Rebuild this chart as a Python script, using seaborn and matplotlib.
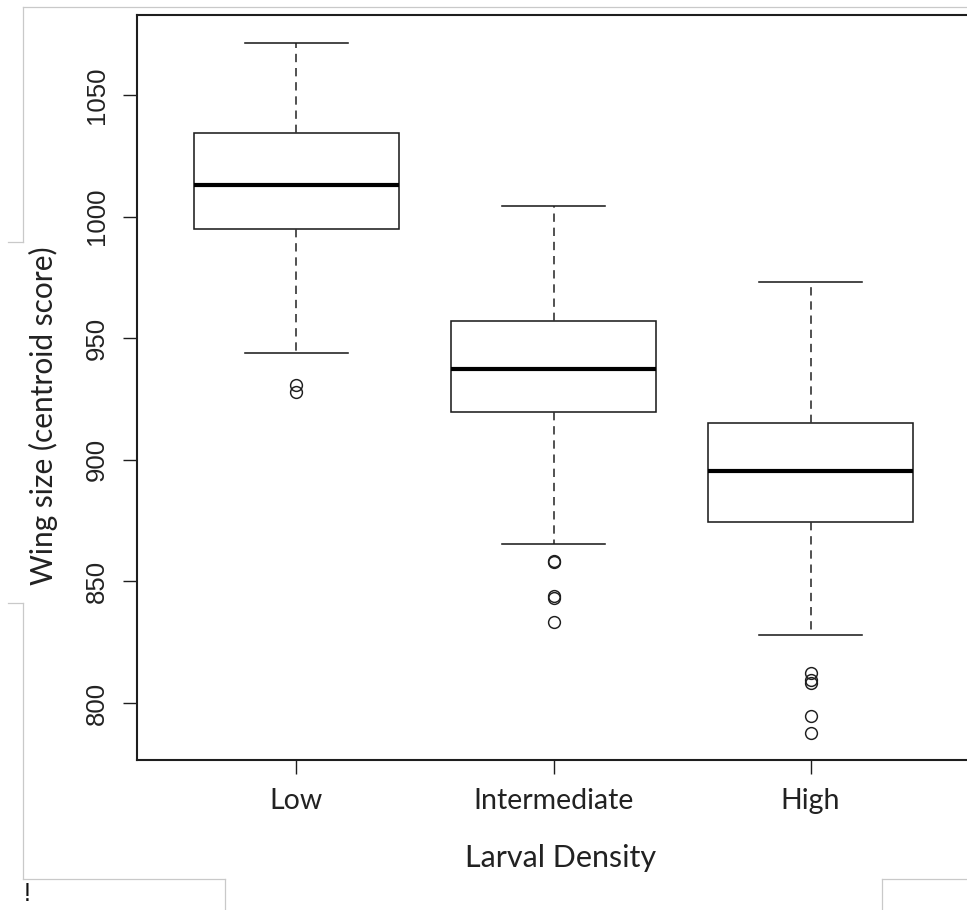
import numpy as np
import pandas as pd
import matplotlib
matplotlib.use("Agg")
import matplotlib.pyplot as plt
from matplotlib.lines import Line2D
import seaborn as sns

# ---------------- data ----------------
categories = ["Low", "Intermediate", "High"]
# five-number summaries: lower whisker, Q1, median, Q3, upper whisker
low_stats = [943.8, 995.1, 1013.0, 1034.4, 1071.4]
intermediate_stats = [865.6, 919.7, 937.3, 957.0, 1004.5]
high_stats = [827.8, 874.5, 895.5, 915.2, 973.0]
low_outliers = [930.6, 928.1]
intermediate_outliers = [858.5, 858.0, 844.2, 843.0, 833.5]
high_outliers = [812.2, 809.5, 808.1, 794.7, 787.8]
y_ticks = [800, 850, 900, 950, 1000, 1050]
x_label = "Larval Density"
y_label = "Wing size (centroid score)"


def build_sample(stats, outliers):
    """Sample whose quartiles / whiskers / fliers reproduce the summary."""
    lw, q1, med, q3, uw = stats
    below = sorted(outliers) + [lw]
    n = len(below)
    return below + [q1] * n + [med] * n + [q3] * n + [uw]


groups = {
    "Low": build_sample(low_stats, low_outliers),
    "Intermediate": build_sample(intermediate_stats, intermediate_outliers),
    "High": build_sample(high_stats, high_outliers),
}
df = pd.DataFrame(
    [(k, v) for k, vals in groups.items() for v in vals],
    columns=["density", "wing"],
)

# ---------------- figure ----------------
W, H = 967, 910
fig = plt.figure(figsize=(W / 100, H / 100), dpi=100)
fig.patch.set_facecolor("white")


def fx(px):
    return px / W


def fy(py):
    return 1 - py / H


ax = fig.add_axes([fx(137), fy(760), (970 - 137) / W, (760 - 15) / H])
ink = "#1e1e1e"

sns.boxplot(
    data=df, x="density", y="wing", order=categories, ax=ax,
    width=0.8, color="white", linecolor=ink, linewidth=1.15, whis=1.5,
    medianprops={"linewidth": 3.0, "color": "black", "solid_capstyle": "butt"},
    whiskerprops={"linestyle": (0, (5, 3.5)), "linewidth": 1.2, "color": "#333333"},
    capprops={"linewidth": 1.15, "color": ink},
    flierprops={"marker": "o", "markersize": 8.5, "markerfacecolor": "none",
                "markeredgecolor": ink, "markeredgewidth": 1.05},
)

ax.set_xlim(-0.62, 2.62)
ax.set_ylim(776.6, 1082.9)
ax.set_yticks(y_ticks)
ax.set_yticklabels([str(t) for t in y_ticks])

for side in ["top", "left", "bottom", "right"]:
    ax.spines[side].set_linewidth(1.5)
    ax.spines[side].set_color(ink)

ax.tick_params(axis="both", direction="out", length=10, width=1.0, color=ink)
ax.tick_params(axis="y", labelrotation=90, pad=10)
ax.tick_params(axis="x", pad=10)
for lab in ax.get_yticklabels():
    lab.set_fontfamily(["Liberation Sans", "DejaVu Sans"])
    lab.set_fontsize(18.5)
    lab.set_color("#222222")
    lab.set_va("center")
for lab in ax.get_xticklabels():
    lab.set_fontfamily(["Lato", "DejaVu Sans"])
    lab.set_fontsize(20.5)
    lab.set_color("#222222")

ax.set_xlabel(x_label, fontsize=22, family=["Lato", "DejaVu Sans"], color="#222222")
ax.set_ylabel(y_label, fontsize=21.5, family=["Lato", "DejaVu Sans"], color="#222222")
ax.xaxis.label.set_va("center")
ax.yaxis.label.set_va("center")
ax.xaxis.set_label_coords(0.5084, -0.1315)
ax.yaxis.set_label_coords(-0.1128, 0.4617)

# ---------------- page-frame remnants of the source document ----------------
gray = "#c9c9c9"
segments = [
    [(22.5, 7), (967, 7)],
    [(22.5, 7), (22.5, 242)],
    [(8, 242), (22.5, 242)],
    [(8, 602.5), (22.5, 602.5)],
    [(22.5, 602.5), (22.5, 879)],
    [(22.5, 879), (225, 879)],
    [(225, 879), (225, 910)],
    [(882, 879), (967, 879)],
    [(882, 879), (882, 910)],
]
for (x0, y0), (x1, y1) in segments:
    fig.add_artist(Line2D([fx(x0), fx(x1)], [fy(y0), fy(y1)],
                          transform=fig.transFigure, color=gray, linewidth=0.9))
fig.text(fx(27), fy(894), "!", fontsize=18, ha="center", va="center",
         family=["Liberation Sans", "DejaVu Sans"], color="#111111")

fig.savefig("out.png", dpi=100, facecolor="white")
